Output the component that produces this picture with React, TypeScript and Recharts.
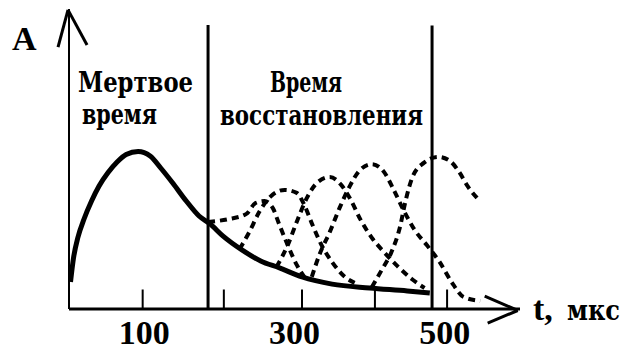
import { LineChart, Line, XAxis, YAxis, ReferenceLine } from "recharts";

// main pulse (after a discharge)
const mainT = [2, 6, 12, 20, 30, 40, 52, 64, 76, 92, 108, 122, 138, 156, 173, 187, 205, 230, 255, 280, 310, 350, 400, 450, 480];
const mainA = [9, 17, 24, 30, 36, 41, 45.5, 49, 51.5, 52.5, 51, 47, 42, 36, 31, 28.5, 24.3, 19.7, 16, 13.7, 10.7, 8.3, 7, 6, 5.3];

// later pulses during recovery
const p1T = [185, 213, 236, 248, 260, 271, 280, 291, 303, 313];
const p1A = [29, 30, 31.7, 35.3, 36, 33.7, 28, 21.3, 14.7, 10.7];
const p2T = [227, 240, 253, 269, 287, 303, 313, 324, 336, 351, 367, 380];
const p2A = [20, 25.7, 32.3, 37.7, 39.7, 38.7, 34.7, 28, 21.3, 15.3, 10.7, 8.7];
const p3T = [276, 291, 304, 317, 331, 347, 361, 375, 388, 403, 419, 437, 456, 473];
const p3A = [14, 21.3, 29.7, 37.3, 42.3, 44, 41.7, 36.3, 29.7, 23.7, 19, 14.3, 10, 7];
const p4T = [323, 333, 347, 360, 373, 387, 403, 419, 432, 445, 460, 476, 493, 509, 525, 547];
const p4A = [10.7, 18, 25.7, 33.7, 40.7, 46.3, 48.3, 45.7, 39.7, 33, 26.3, 21.3, 15.7, 9, 4, 2.7];
const p5T = [403, 416, 429, 440, 448, 457, 472, 491, 507, 519, 531, 544];
const p5A = [7.3, 13, 19, 27, 36.3, 44, 48.7, 50.7, 49.3, 45.7, 40.7, 36.7];

const xTicks = [100, 300, 500];
const tickMarks = [98, 206, 310, 407, 503];
const deadEnd = 185;
const recoveryEnd = 483;

const zip = (t: number[], a: number[]) => t.map((v, i) => ({ t: v, a: a[i] }));

const pulses = [zip(p1T, p1A), zip(p2T, p2A), zip(p3T, p3A), zip(p4T, p4A), zip(p5T, p5A)];

const FONT = "'Liberation Serif', 'Times New Roman', serif";
const CYR = "'DejaVu Serif', serif";

const Tick = ({ x, y, payload }: any) => (
  <text x={x} y={y + 35} textAnchor="middle" fontFamily={FONT} fontWeight="bold" fontSize={34} fill="#000">
    {payload.value}
  </text>
);

const Word = ({ x, y, w, children }: any) => (
  <text
    x={x}
    y={y}
    fontFamily={CYR}
    fontWeight="bold"
    fontSize={27}
    fill="#000"
    textLength={w}
    lengthAdjust="spacingAndGlyphs"
  >
    {children}
  </text>
);

export default function App() {
  return (
    <div style={{ position: "absolute", left: 0, top: 0, width: 629, height: 352, background: "#fff" }}>
      <LineChart width={629} height={352} margin={{ top: 9, right: 109, left: 69, bottom: 0 }}>
        <XAxis
          type="number"
          dataKey="t"
          domain={[0, 600]}
          ticks={xTicks}
          allowDataOverflow
          height={43}
          tickSize={0}
          tickMargin={0}
          tickLine={false}
          axisLine={{ stroke: "#000", strokeWidth: 3 }}
          tick={<Tick />}
        />
        <YAxis type="number" domain={[0, 100]} hide allowDataOverflow />

        {/* y axis with arrow */}
        <ReferenceLine segment={[{ x: 0, y: 0 }, { x: 0, y: 100 }]} stroke="#000" strokeWidth={2} ifOverflow="visible" />
        <ReferenceLine segment={[{ x: -1.3, y: 99.7 }, { x: -14.6, y: 87.3 }]} stroke="#000" strokeWidth={3} ifOverflow="visible" />
        <ReferenceLine segment={[{ x: -1.3, y: 99.7 }, { x: 24, y: 88 }]} stroke="#000" strokeWidth={3} ifOverflow="visible" />
        {/* x axis arrow */}
        <ReferenceLine segment={[{ x: 597, y: -0.5 }, { x: 553, y: 4.3 }]} stroke="#000" strokeWidth={3} ifOverflow="visible" />
        <ReferenceLine segment={[{ x: 597, y: -0.5 }, { x: 557, y: -4.7 }]} stroke="#000" strokeWidth={3} ifOverflow="visible" />

        {tickMarks.map((t) => (
          <ReferenceLine key={t} segment={[{ x: t, y: 0 }, { x: t, y: 6.5 }]} stroke="#000" strokeWidth={2} ifOverflow="visible" />
        ))}

        <ReferenceLine segment={[{ x: deadEnd, y: 0 }, { x: deadEnd, y: 94.7 }]} stroke="#000" strokeWidth={3} ifOverflow="visible" />
        <ReferenceLine segment={[{ x: recoveryEnd, y: 0 }, { x: recoveryEnd, y: 94.5 }]} stroke="#000" strokeWidth={3} ifOverflow="visible" />

        {pulses.map((d, i) => (
          <Line
            key={i}
            data={d}
            dataKey="a"
            type="monotone"
            stroke="#000"
            strokeWidth={4}
            strokeDasharray="7 5"
            dot={false}
            isAnimationActive={false}
          />
        ))}
        <Line
          data={zip(mainT, mainA)}
          dataKey="a"
          type="monotone"
          stroke="#000"
          strokeWidth={5}
          dot={false}
          isAnimationActive={false}
        />

        <text x={12} y={50} fontFamily={FONT} fontWeight="bold" fontSize={34} fill="#000">A</text>
        <Word x={78} y={92} w={115}>Мертвое</Word>
        <Word x={82} y={124} w={75}>время</Word>
        <Word x={270} y={92} w={72}>Время</Word>
        <Word x={220} y={125} w={203}>восстановления</Word>
        <text x={533} y={320} fontFamily={FONT} fontWeight="bold" fontSize={34} fill="#000">t,</text>
        <Word x={567} y={320} w={53}>мкс</Word>
      </LineChart>
    </div>
  );
}
